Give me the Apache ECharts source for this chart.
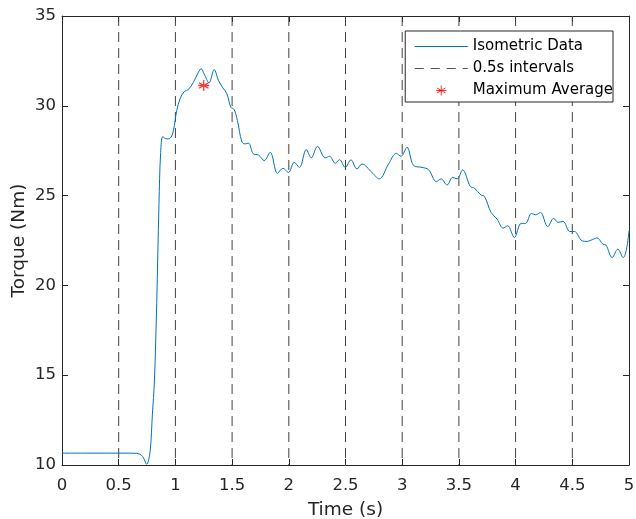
<!DOCTYPE html>
<html>
<head>
<meta charset="utf-8">
<script src="https://cdn.jsdelivr.net/npm/echarts@6/dist/echarts.min.js"></script>
<style>html,body{margin:0;padding:0;background:#fff}#c{width:636px;height:519px}</style>
</head>
<body>
<div id="c"></div>
<script>
var timeS = [0, 0.2, 0.4, 0.6, 0.66, 0.70, 0.72, 0.747, 0.777, 0.797, 0.815, 0.835, 0.855, 0.870, 0.889, 0.918, 0.953, 0.982, 1.012, 1.041, 1.077, 1.115, 1.159, 1.203, 1.227, 1.253, 1.297, 1.342, 1.380, 1.418, 1.454, 1.489, 1.518, 1.547, 1.586, 1.615, 1.644, 1.688, 1.733, 1.783, 1.836, 1.900, 1.948, 1.997, 2.048, 2.094, 2.154, 2.198, 2.253, 2.321, 2.359, 2.410, 2.447, 2.498, 2.548, 2.601, 2.645, 2.733, 2.798, 2.880, 2.948, 2.989, 3.042, 3.101, 3.175, 3.233, 3.301, 3.343, 3.395, 3.445, 3.484, 3.533, 3.601, 3.636, 3.695, 3.725, 3.784, 3.837, 3.890, 3.930, 3.989, 4.049, 4.087, 4.140, 4.175, 4.219, 4.283, 4.336, 4.375, 4.419, 4.478, 4.519, 4.587, 4.631, 4.666, 4.719, 4.769, 4.795, 4.852, 4.901, 4.949, 4.978, 5.0];
var torque = [10.66, 10.66, 10.66, 10.66, 10.65, 10.55, 10.38, 10.04, 10.77, 12.82, 14.68, 19.0, 24.5, 27.4, 28.29, 28.16, 28.19, 28.62, 29.74, 30.39, 30.79, 30.91, 31.31, 31.87, 32.06, 31.78, 31.28, 32.02, 31.41, 31.0, 30.67, 29.92, 29.79, 29.18, 28.0, 27.88, 27.92, 27.32, 27.26, 26.95, 27.41, 26.24, 26.52, 26.29, 26.85, 26.57, 27.56, 27.10, 27.74, 27.10, 27.19, 26.80, 27.00, 26.57, 26.99, 26.48, 26.76, 26.29, 25.93, 26.76, 27.35, 27.19, 27.69, 26.67, 26.57, 26.44, 25.78, 25.93, 25.59, 26.01, 25.93, 26.43, 25.50, 25.42, 25.03, 24.96, 24.06, 23.69, 23.19, 23.32, 22.67, 23.45, 23.45, 24.01, 23.93, 24.06, 23.27, 23.73, 23.51, 23.56, 23.00, 23.00, 22.48, 22.45, 22.52, 22.64, 22.30, 22.26, 21.55, 22.02, 21.55, 22.02, 23.04];
var intervalTimes = [0.5, 1.0, 1.5, 2.0, 2.5, 3.0, 3.5, 4.0, 4.5];
var maxAvgTime = 1.25;
var maxAvgTorque = 31.13;
var xTicks = [0, 0.5, 1, 1.5, 2, 2.5, 3, 3.5, 4, 4.5, 5];
var yTicks = [10, 15, 20, 25, 30, 35];

var FONT = 'DejaVu Sans';
var AX = '#262626';
var STAR = 'path://M0,-5L0,5M-4.33,-2.5L4.33,2.5M-4.33,2.5L4.33,-2.5M-5,0L5,0';
var chart = echarts.init(document.getElementById('c'), null, {renderer: 'canvas'});

var series = [{
  name: 'Isometric Data', type: 'line', xAxisIndex: 0, yAxisIndex: 0,
  data: timeS.map(function (t, i) { return [t, torque[i]]; }),
  showSymbol: false, symbol: 'none', smooth: 0.35,
  lineStyle: {color: '#0072bd', width: 1}, itemStyle: {color: '#0072bd'}, z: 5
}];
intervalTimes.forEach(function (t) {
  series.push({
    name: '0.5s intervals', type: 'line', symbol: 'none',
    data: [[t, yTicks[yTicks.length - 1]], [t, yTicks[0]]],
    lineStyle: {color: '#404040', width: 1, type: [10, 6]}, itemStyle: {color: '#404040'}, z: 3
  });
});
series.push({
  name: 'Maximum Average', type: 'scatter', data: [[maxAvgTime, maxAvgTorque]],
  symbol: STAR, symbolSize: 11,
  itemStyle: {color: '#ff0000', borderColor: '#ff0000', borderWidth: 1.3}, z: 6
});

function tick() {
  return {show: true, inside: true, length: 6, lineStyle: {color: AX, width: 1}};
}
function line() {
  return {show: true, onZero: false, lineStyle: {color: AX, width: 1}};
}

chart.setOption({
  animation: false,
  backgroundColor: '#ffffff',
  grid: {left: 62, right: 7, top: 16, bottom: 54, containLabel: false, outerBoundsMode: 'none'},
  legend: {
    right: 23, top: 31, orient: 'vertical', itemGap: 7, itemWidth: 53, itemHeight: 14,
    backgroundColor: '#ffffff', borderColor: AX, borderWidth: 1, padding: [8, 0, 4, 9],
    textStyle: {fontFamily: FONT, fontSize: 15, color: '#000'},
    data: [
      {name: 'Isometric Data', icon: 'path://M0,0h53v1h-53z', itemStyle: {color: '#0072bd', borderWidth: 0}},
      {name: '0.5s intervals', icon: 'path://M0,0h9v1h-9zM16,0h9v1h-9zM32,0h9v1h-9zM48,0h5v1h-5z', itemStyle: {color: '#555555', borderWidth: 0}},
      {name: 'Maximum Average', icon: 'path://M26.5,-5L26.5,5M22.17,-2.5L30.83,2.5M22.17,2.5L30.83,-2.5M21.5,0L31.5,0M0,-7L0,-7M53,7L53,7', itemStyle: {color: '#ff0000', borderColor: '#ff0000', borderWidth: 1}}
    ]
  },
  xAxis: [{
    type: 'value', min: 0, max: 5, interval: 0.5, position: 'bottom',
    name: 'Time (s)', nameLocation: 'middle', nameGap: 36, nameMoveOverlap: false,
    nameTextStyle: {fontFamily: FONT, fontSize: 18.5, color: AX},
    axisLine: line(), axisTick: tick(),
    axisLabel: {fontFamily: FONT, fontSize: 16.5, color: AX, margin: 12},
    splitLine: {show: false}
  }, {
    type: 'value', min: 0, max: 5, interval: 0.5, position: 'top',
    axisLine: line(), axisTick: tick(),
    axisLabel: {show: false}, splitLine: {show: false}
  }],
  yAxis: [{
    type: 'value', min: 10, max: 35, interval: 5, position: 'left',
    name: 'Torque (Nm)', nameLocation: 'middle', nameGap: 33, nameMoveOverlap: false,
    nameTextStyle: {fontFamily: FONT, fontSize: 18.5, color: AX},
    axisLine: line(), axisTick: tick(),
    axisLabel: {fontFamily: FONT, fontSize: 16.5, color: AX, margin: 6},
    splitLine: {show: false}
  }, {
    type: 'value', min: 10, max: 35, interval: 5, position: 'right',
    axisLine: line(), axisTick: tick(),
    axisLabel: {show: false}, splitLine: {show: false}
  }],
  series: series
});
</script>
</body>
</html>
